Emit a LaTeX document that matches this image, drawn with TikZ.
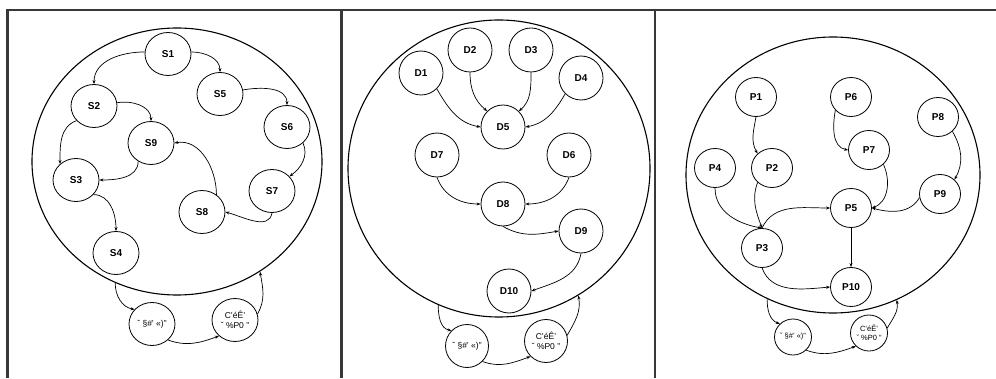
\documentclass[tikz,border=0pt]{standalone}
\usepackage{fontspec}
\setmainfont{Liberation Sans}
\usepackage{tikz}
\usetikzlibrary{shapes.geometric}
\usetikzlibrary{arrows.meta}

\begin{document}
\begin{tikzpicture}[x=1pt,y=1pt,>={Stealth[length=4pt,width=3pt]},
  snode/.style={draw,ellipse,inner sep=0pt,line width=0.8pt,minimum width=46pt,minimum height=43pt,font=\bfseries\fontsize{10}{12}\selectfont},
  dnode/.style={snode,minimum width=44pt,minimum height=44pt},
  pnode/.style={snode,minimum width=41pt,minimum height=39pt},
  gnode/.style={draw,ellipse,inner sep=0pt,line width=0.8pt,align=center,font=\fontsize{8.5}{9.5}\selectfont},
  bigc/.style={draw,ellipse,inner sep=0pt,line width=1.1pt},
  edge/.style={->,line width=0.7pt}]
\useasboundingbox (0,0) rectangle (996,378);
 \draw[line width=2.6pt,black!78] (7.5,0) -- (7.5,368) -- (996,368);
 \draw[line width=2.6pt,black!78] (341.5,0) -- (341.5,368);
 \draw[line width=2.6pt,black!78] (655,0) -- (655,368);

 \node[bigc,minimum width=290pt,minimum height=267pt] (big1) at (177,216.5) {};
 \node[snode] (S1) at (168,324) {S1};
 \node[snode] (S5) at (220,284) {S5};
 \node[snode] (S2) at (94,272) {S2};
 \node[snode] (S6) at (287,251) {S6};
 \node[snode] (S9) at (151,235) {S9};
 \node[snode] (S3) at (76,198) {S3};
 \node[snode] (S7) at (272,187) {S7};
 \node[snode] (S8) at (202,166) {S8};
 \node[snode] (S4) at (116,125) {S4};
 \node[gnode,minimum width=46pt,minimum height=43pt] (A1) at (152,54) {ˇ §\#’ «)”};
 \node[gnode,minimum width=46pt,minimum height=43pt] (B1) at (235,58) {C’éÊ’\\ˇ \%P0 ”};
 \draw[edge] (S1.175) to[out=180,in=90] (S2.north);
 \draw[edge] (S1.5) to[out=0,in=90] (S5.north);
 \draw[edge] (S5.10) to[out=10,in=90] (S6.north);
 \draw[edge] (S6.-45) to[out=-65,in=35] (S7.40);
 \draw[edge] (S7.south) to[out=-100,in=-15] (S8.east);
 \draw[edge] (S8.50) to[out=90,in=10] (S9.east);
 \draw[edge] (S2.8) to[out=10,in=90] (S9.north);
 \draw[edge] (S2.220) to[out=200,in=90] (S3.135);
 \draw[edge] (S9.235) to[out=-90,in=0] (S3.east);
 \draw[edge] (S3.-40) to[out=0,in=90] (S4.north);
 \draw[edge] (big1.243) to[out=-90,in=170] (A1.140);
 \draw[edge] (A1.-45) to[out=-20,in=200] (B1.225);
 \draw[edge] (B1.15) to[out=60,in=-80] (big1.307);

 \node[bigc,minimum width=302pt,minimum height=297pt] (big2) at (499,209.5) {};
 \node[dnode] (D1) at (421,305) {D1};
 \node[dnode] (D2) at (470,328) {D2};
 \node[dnode] (D3) at (531,328) {D3};
 \node[dnode] (D4) at (581,300) {D4};
 \node[dnode] (D5) at (503,251) {D5};
 \node[dnode] (D7) at (437,223) {D7};
 \node[dnode] (D6) at (569,223) {D6};
 \node[dnode] (D8) at (503,174) {D8};
 \node[dnode] (D9) at (581,147) {D9};
 \node[dnode] (D10) at (509,87) {D10};
 \node[gnode,minimum width=43pt,minimum height=43pt] (A2) at (467,32) {ˇ §\#’ «)”};
 \node[gnode,minimum width=43pt,minimum height=43pt] (B2) at (546,37) {C’éÊ’\\ˇ \%P0 ”};
 \draw[edge] (D1.-45) to[out=-60,in=170] (D5.west);
 \draw[edge] (D2.south) to[out=-90,in=140] (D5.135);
 \draw[edge] (D3.south) to[out=-90,in=40] (D5.45);
 \draw[edge] (D4.225) to[out=-120,in=10] (D5.east);
 \draw[edge] (D7.south) to[out=-70,in=180] (D8.west);
 \draw[edge] (D6.south) to[out=-110,in=0] (D8.east);
 \draw[edge] (D8.south) to[out=-30,in=190] (D9.west);
 \draw[edge] (D9.south) to[out=-100,in=20] (D10.east);
 \draw[edge] (big2.246) to[out=-90,in=170] (A2.135);
 \draw[edge] (A2.-45) to[out=-20,in=200] (B2.225);
 \draw[edge] (B2.15) to[out=60,in=-80] (big2.302);

 \node[bigc,minimum width=294pt,minimum height=276pt] (big3) at (833,203) {};
 \node[pnode] (P1) at (756,281) {P1};
 \node[pnode] (P6) at (851,281) {P6};
 \node[pnode] (P8) at (938,261) {P8};
 \node[pnode] (P7) at (869,228) {P7};
 \node[pnode] (P4) at (715,210) {P4};
 \node[pnode] (P2) at (772,210) {P2};
 \node[pnode] (P9) at (940,184) {P9};
 \node[pnode] (P5) at (851,170) {P5};
 \node[pnode] (P3) at (762,130) {P3};
 \node[pnode] (P10) at (851,91) {P10};
 \node[gnode,minimum width=37pt,minimum height=36pt,font=\fontsize{7.5}{8.5}\selectfont] (A3) at (793,41) {ˇ §\#’ «)”};
 \node[gnode,minimum width=37pt,minimum height=36pt,font=\fontsize{7.5}{8.5}\selectfont] (B3) at (869,45) {C’éÊ’\\ˇ \%P0 ”};
 \draw[edge] (P1.south) to[out=-100,in=120] (P2.135);
 \draw[edge] (P6.220) to[out=-100,in=170] (P7.west);
 \draw[edge] (P8.-45) to[out=-60,in=60] (P9.45);
 \draw[edge] (P7.-45) to[out=-65,in=20] (P5.east);
 \draw[edge] (P9.190) to[out=-120,in=-15] (P5.east);
 \draw[edge] (P4.south) to[out=-90,in=170] (P3.north);
 \draw[edge] (P2.225) to[out=-110,in=110] (P3.north);
 \draw[edge] (P3.north) to[out=65,in=180] (P5.west);
 \draw[edge] (P5) -- (P10);
 \draw[edge] (P3.south) to[out=-70,in=185] (P10.west);
 \draw[edge] (big3.242) to[out=-90,in=160] (A3.135);
 \draw[edge] (A3.-45) to[out=-20,in=200] (B3.225);
 \draw[edge] (B3.15) to[out=60,in=-80] (big3.297);
\end{tikzpicture}
\end{document}
